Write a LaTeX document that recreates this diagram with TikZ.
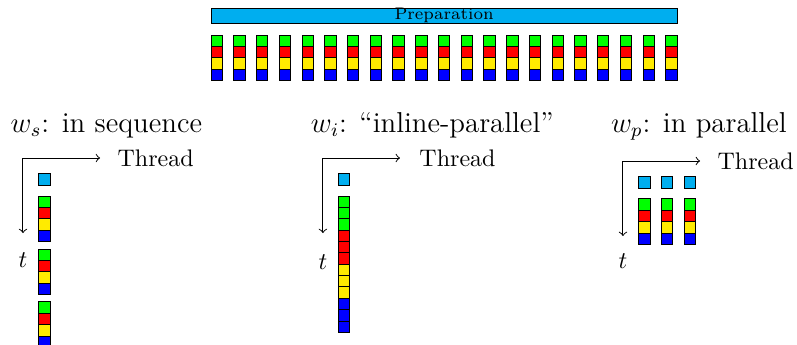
\documentclass[tikz,border=0pt]{standalone}
\usetikzlibrary{positioning}

\definecolor{prepcol}{RGB}{0,174,239}
\definecolor{grcol}{RGB}{0,255,0}
\definecolor{rdcol}{RGB}{255,0,0}
\definecolor{ylcol}{RGB}{255,235,0}
\definecolor{blcol}{RGB}{0,0,255}

\tikzset{
	cell/.style = {draw, inner sep = 0pt, minimum size = 4.74pt},
	title/.style = {anchor = base west, inner sep = 0pt, font = \large},
}

\begin{document}
\begin{tikzpicture}[x = 4.74pt, y = 4.74pt]
	\useasboundingbox (0,0) rectangle (70.1,-30.34);

	\foreach \k in {0,...,20}
		\foreach \c [count = \j from 0] in {grcol,rdcol,ylcol,blcol}
			\node[cell, fill = \c] (prep-\k-\j) at (19.06+2*\k, -3.58-\j) {};
	\node[cell, fill = prepcol, minimum width = 194.3pt, font = \scriptsize,
		above = 4.6pt of prep-10-0] (prep) {Preparation};

	\node[title] (ws) at (0.9,-11.65) {$w_s$: in sequence};
	\node[title] (wi) at (27.3,-11.65) {$w_i$: ``inline-parallel''};
	\node[title] (wp) at (53.7,-11.65) {$w_p$: in parallel};

	% in sequence
	\coordinate (s-o) at (2.02,-13.9);
	\coordinate (s-x) at (8.8,-13.9);
	\coordinate (s-t) at (2.02,-20.5);
	\draw[<->] (s-x) -- (s-o) -- (s-t);
	\node[right = 3.8pt of s-x] (s-thread) {Thread};
	\node[below = 4.6pt of s-t] (s-time) {$t$};
	\node[cell, fill = prepcol] (s-prep) at (3.9,-15.8) {};
	\foreach \g in {0,1,2}
		\foreach \c [count = \j from 0] in {grcol,rdcol,ylcol,blcol}
			\node[cell, fill = \c] (s-\g-\j) at (3.9, -17.74-4.66*\g-\j) {};

	% inline-parallel
	\begin{scope}[shift = {(26.38,0)}]
		\coordinate (i-o) at (2.02,-13.9);
		\coordinate (i-x) at (8.8,-13.9);
		\coordinate (i-t) at (2.02,-20.5);
		\draw[<->] (i-x) -- (i-o) -- (i-t);
		\node[right = 4.6pt of i-x] (i-thread) {Thread};
		\node[below = 5.4pt of i-t] (i-time) {$t$};
		\node[cell, fill = prepcol] (i-prep) at (3.9,-15.8) {};
		\foreach \c [count = \j from 0] in {grcol,grcol,grcol,rdcol,rdcol,rdcol,ylcol,ylcol,ylcol,blcol,blcol,blcol}
			\node[cell, fill = \c] (i-\j) at (3.9, -17.74-\j) {};
	\end{scope}

	% in parallel
	\begin{scope}[shift = {(52.77,-0.26)}]
		\coordinate (p-o) at (2.02,-13.9);
		\coordinate (p-x) at (8.8,-13.9);
		\coordinate (p-t) at (2.02,-20.5);
		\draw[<->] (p-x) -- (p-o) -- (p-t);
		\node[right = 3.8pt of p-x] (p-thread) {Thread};
		\node[below = 3.8pt of p-t] (p-time) {$t$};
		\foreach \k in {0,1,2} {
			\node[cell, fill = prepcol] (p-prep-\k) at (3.9+2*\k,-15.8) {};
			\foreach \c [count = \j from 0] in {grcol,rdcol,ylcol,blcol}
				\node[cell, fill = \c] (p-\k-\j) at (3.9+2*\k, -17.74-\j) {};
		}
	\end{scope}
\end{tikzpicture}
\end{document}
